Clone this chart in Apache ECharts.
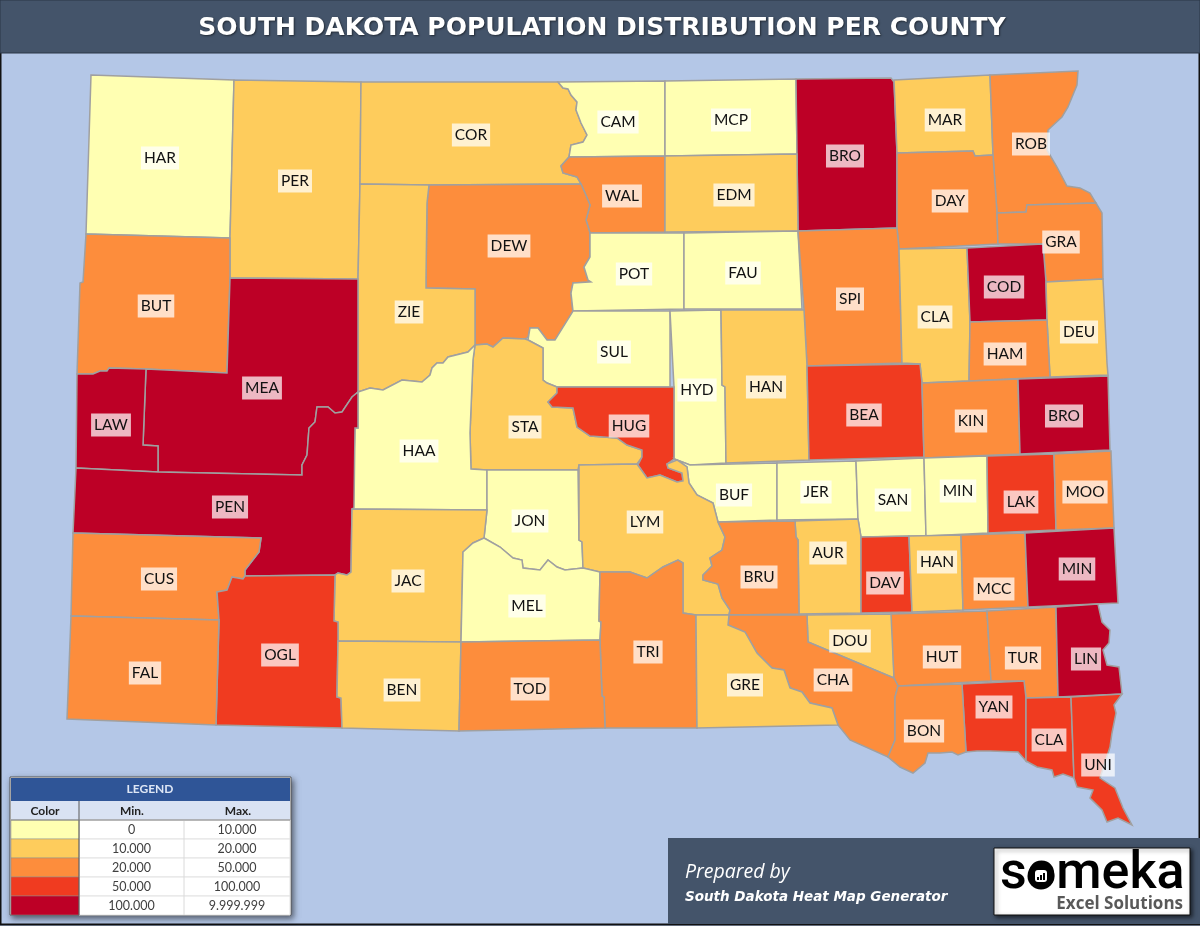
<!DOCTYPE html>
<html>
<head>
<meta charset="utf-8">
<title>South Dakota Population Distribution Per County</title>
<script src="https://cdn.jsdelivr.net/npm/echarts@6/dist/echarts.min.js"></script>
<style>
html, body { margin: 0; padding: 0; background: #000; }
#chart { width: 1200px; height: 926px; }
</style>
</head>
<body>
<div id="chart"></div>
<script>
var chartTitle = 'SOUTH DAKOTA POPULATION DISTRIBUTION PER COUNTY';

// legend table
var bandColors = ['#FFFFB2', '#FECC5C', '#FD8D3C', '#F03B20', '#BD0026'];
var bandMin = ['0', '10.000', '20.000', '50.000', '100.000'];
var bandMax = ['10.000', '20.000', '50.000', '100.000', '9.999.999'];

// counties, all lists below run in the same order
var countyNames = ['Harding', 'Perkins', 'Corson', 'Campbell', 'McPherson', 'Brown', 'Marshall', 'Roberts',
    'Walworth', 'Edmunds', 'Day', 'Grant', 'Dewey', 'Potter', 'Faulk', 'Spink', 'Clark', 'Codington', 'Deuel',
    'Butte', 'Ziebach', 'Sully', 'Hamlin', 'Meade', 'Hyde', 'Hand', 'Lawrence', 'Stanley', 'Hughes', 'Haakon',
    'Beadle', 'Kingsbury', 'Brookings', 'Pennington', 'Buffalo', 'Jerauld', 'Sanborn', 'Miner', 'Lake', 'Moody',
    'Jones', 'Lyman', 'Custer', 'Aurora', 'Davison', 'Hanson', 'McCook', 'Minnehaha', 'Brule', 'Jackson',
    'Mellette', 'Oglala', 'Tripp', 'Douglas', 'Hutchinson', 'Turner', 'Lincoln', 'Charles Mix', 'Gregory',
    'Fall River', 'Bennett', 'Todd', 'Yankton', 'Bon Homme', 'Clay', 'Union'];
var countyCodes = ['HAR', 'PER', 'COR', 'CAM', 'MCP', 'BRO', 'MAR', 'ROB',
    'WAL', 'EDM', 'DAY', 'GRA', 'DEW', 'POT', 'FAU', 'SPI', 'CLA', 'COD', 'DEU',
    'BUT', 'ZIE', 'SUL', 'HAM', 'MEA', 'HYD', 'HAN', 'LAW', 'STA', 'HUG', 'HAA',
    'BEA', 'KIN', 'BRO', 'PEN', 'BUF', 'JER', 'SAN', 'MIN', 'LAK', 'MOO',
    'JON', 'LYM', 'CUS', 'AUR', 'DAV', 'HAN', 'MCC', 'MIN', 'BRU', 'JAC',
    'MEL', 'OGL', 'TRI', 'DOU', 'HUT', 'TUR', 'LIN', 'CHA', 'GRE',
    'FAL', 'BEN', 'TOD', 'YAN', 'BON', 'CLA', 'UNI'];
// index into the legend rows
var countyBands = [0, 1, 1, 0, 0, 4, 1, 2,
    2, 1, 2, 2, 2, 0, 0, 2, 1, 4, 1,
    2, 1, 0, 2, 4, 0, 1, 4, 1, 3, 0,
    3, 2, 4, 4, 0, 0, 0, 0, 3, 2,
    0, 1, 2, 1, 3, 1, 2, 4, 2, 1,
    0, 3, 2, 1, 2, 2, 4, 2, 1,
    2, 1, 2, 3, 2, 3, 3];
var labelAnchors = [[160,157],[295,180],[471,134],[618,121],[731,119],[845,155],[945,119],[1031,143],
    [622,195],[734,194],[950,200],[1061,241],[509,245],[634,273],[743,272],[850,298],[935,316],[1004,286],[1079,331],
    [156,305],[409,311],[614,351],[1005,353],[262,387],[697,389],[766,386],[111,424],[525,426],[629,425],[419,450],
    [864,414],[971,420],[1064,415],[230,506],[734,494],[816,491],[893,499],[958,490],[1021,501],[1085,491],
    [530,520],[645,521],[159,578],[828,552],[885,582],[937,561],[994,588],[1077,568],[759,576],[408,580],
    [527,605],[280,654],[648,651],[850,640],[942,656],[1023,657],[1086,658],[833,679],[745,684],
    [145,672],[402,689],[530,688],[994,706],[924,730],[1049,739],[1098,764]];
// county shapes
var countyOutlines = [
    [[91,75],[234,80],[230,238],[86,234]],
    [[234,80],[361,82],[360,184],[358,279],[230,278],[230,238]],
    [[361,82],[558,82],[563,88],[568,89],[571,95],[577,102],[576,110],[581,123],[587,135],[583,142],[571,145],[569,157],[561,166],[563,173],[577,177],[581,184],[429,185],[360,184]],
    [[558,82],[665,81],[665,156],[569,157],[571,145],[583,142],[587,135],[581,123],[576,110],[577,102],[571,95],[568,89],[563,88]],
    [[665,81],[796,79],[797,154],[665,156]],
    [[796,79],[891,78],[894,82],[897,153],[897,228],[798,231],[797,154]],
    [[894,80],[990,75],[993,155],[975,156],[973,151],[897,153]],
    [[990,75],[1078,71],[1077,85],[1068,107],[1062,117],[1048,130],[1047,150],[1057,167],[1067,186],[1080,188],[1090,193],[1096,203],[1027,205],[1026,212],[997,213],[993,155]],
    [[569,157],[665,156],[665,232],[590,233],[586,220],[590,205],[585,193],[581,184],[577,177],[563,173],[561,166]],
    [[665,156],[797,154],[798,231],[665,232]],
    [[897,153],[973,151],[975,156],[993,155],[997,213],[998,244],[899,249],[897,228]],
    [[997,213],[1026,212],[1027,205],[1096,203],[1102,213],[1103,279],[1046,282],[1043,244],[998,244]],
    [[429,185],[581,184],[585,193],[590,205],[586,220],[590,233],[590,257],[584,267],[588,280],[591,282],[573,283],[571,293],[573,313],[555,340],[547,340],[538,328],[530,328],[528,337],[525,339],[503,338],[493,347],[487,344],[475,345],[475,289],[426,288],[426,278],[427,203]],
    [[590,233],[684,233],[684,309],[573,311],[571,293],[573,283],[591,282],[588,280],[584,267],[590,257]],
    [[684,233],[798,231],[802,309],[684,309]],
    [[798,231],[897,228],[899,249],[902,363],[807,366],[804,310]],
    [[899,249],[967,248],[970,322],[969,381],[922,383],[920,364],[902,363]],
    [[967,248],[1043,244],[1046,282],[1047,320],[970,322]],
    [[1046,282],[1103,279],[1107,363],[1108,375],[1050,377],[1047,320]],
    [[86,234],[230,238],[230,278],[227,373],[146,369],[109,368],[107,371],[100,371],[93,374],[77,374],[80,283],[83,282]],
    [[360,184],[429,185],[427,203],[426,278],[426,288],[475,289],[475,345],[468,352],[448,357],[443,363],[437,363],[432,368],[430,375],[422,382],[402,380],[383,390],[370,388],[358,392],[358,279]],
    [[528,340],[530,328],[538,328],[547,340],[555,340],[573,311],[670,311],[670,387],[557,387],[547,383],[543,380],[543,348]],
    [[970,322],[1047,320],[1050,377],[969,381]],
    [[230,278],[358,279],[358,392],[352,397],[342,412],[335,413],[328,407],[317,407],[315,422],[309,428],[307,455],[302,465],[302,475],[158,472],[158,446],[143,445],[146,369],[227,373]],
    [[670,311],[721,310],[722,385],[725,387],[726,463],[690,465],[677,460],[674,459],[674,387]],
    [[721,310],[804,310],[807,366],[809,460],[726,463],[725,387],[722,385]],
    [[77,374],[93,374],[100,371],[107,371],[109,368],[146,369],[143,445],[158,446],[158,472],[76,468]],
    [[475,345],[487,344],[493,347],[503,338],[525,339],[528,340],[543,348],[543,380],[547,383],[557,387],[557,393],[548,402],[552,407],[573,408],[577,427],[590,436],[617,438],[627,445],[642,450],[642,457],[637,464],[579,465],[578,470],[487,470],[471,469],[470,433],[473,360]],
    [[557,387],[674,387],[674,459],[667,464],[668,468],[682,473],[683,481],[677,482],[660,475],[647,478],[638,465],[642,457],[642,450],[627,445],[617,438],[590,436],[577,427],[573,408],[552,407],[548,402],[557,393]],
    [[358,392],[370,388],[383,390],[402,380],[422,382],[430,375],[432,368],[437,363],[443,363],[448,357],[468,352],[475,345],[473,360],[470,433],[471,469],[487,470],[487,510],[352,509],[355,428],[358,428]],
    [[807,366],[920,364],[922,383],[924,457],[809,460]],
    [[922,383],[1018,379],[1020,454],[924,458]],
    [[1018,379],[1108,376],[1110,450],[1020,454]],
    [[76,468],[158,472],[302,475],[302,465],[307,455],[309,428],[315,422],[317,407],[328,407],[335,413],[342,412],[352,397],[358,392],[358,428],[355,428],[354,508],[352,509],[351,572],[347,575],[338,573],[335,575],[245,576],[245,570],[259,552],[261,538],[73,533]],
    [[677,460],[690,465],[777,463],[777,520],[718,522],[713,503],[697,495],[689,483],[687,467]],
    [[777,463],[856,461],[858,519],[777,520]],
    [[856,461],[924,458],[926,536],[861,537],[858,519]],
    [[924,458],[987,456],[988,533],[926,536]],
    [[987,456],[1054,454],[1056,530],[988,533]],
    [[1054,454],[1111,451],[1114,528],[1056,530]],
    [[487,470],[578,470],[579,540],[582,542],[583,568],[565,570],[557,567],[548,560],[540,570],[523,568],[522,560],[513,558],[500,547],[484,538],[487,510]],
    [[579,465],[637,464],[638,465],[647,478],[660,475],[677,482],[683,481],[682,473],[668,468],[667,464],[677,460],[687,467],[689,483],[697,495],[713,503],[718,522],[725,537],[722,550],[710,558],[712,566],[703,575],[703,580],[718,584],[722,598],[730,610],[729,615],[696,615],[683,613],[683,563],[678,560],[663,567],[647,578],[630,572],[600,572],[583,568],[582,542],[579,540]],
    [[73,533],[261,538],[259,552],[245,570],[245,576],[243,579],[232,577],[227,590],[217,592],[219,620],[71,616]],
    [[795,521],[858,519],[861,537],[861,613],[799,614],[798,540],[796,537]],
    [[861,537],[909,536],[912,612],[861,613]],
    [[909,536],[961,535],[963,610],[912,612]],
    [[961,535],[1025,533],[1028,607],[963,610]],
    [[1025,533],[1114,528],[1118,603],[1028,607]],
    [[718,522],[795,521],[796,537],[798,540],[799,614],[729,615],[730,610],[722,598],[718,584],[703,580],[703,575],[712,566],[710,558],[722,550],[725,537]],
    [[352,509],[487,510],[484,538],[473,543],[463,552],[461,642],[338,641],[338,622],[334,621],[335,575],[338,573],[347,575],[351,572]],
    [[484,538],[500,547],[513,558],[522,560],[523,568],[540,570],[548,560],[557,567],[565,570],[583,568],[600,572],[599,621],[601,622],[600,640],[461,642],[463,552],[473,543]],
    [[217,592],[227,590],[232,577],[243,579],[245,576],[335,575],[334,621],[338,622],[338,641],[337,697],[341,698],[342,728],[216,725],[219,620]],
    [[600,572],[630,572],[647,578],[663,567],[678,560],[683,563],[683,613],[696,615],[697,728],[605,728],[604,697],[602,696],[600,640],[601,622],[599,621]],
    [[807,615],[892,614],[894,678],[808,642]],
    [[891,614],[987,611],[991,681],[898,686],[894,678]],
    [[987,611],[1056,607],[1058,697],[1026,698],[1024,681],[991,681]],
    [[1056,607],[1098,604],[1102,622],[1110,630],[1109,643],[1103,650],[1107,665],[1119,667],[1122,694],[1058,697]],
    [[729,615],[807,615],[808,642],[894,678],[898,686],[895,697],[895,740],[888,757],[850,740],[838,725],[832,708],[810,703],[802,692],[790,688],[784,670],[772,668],[757,653],[745,632],[728,625]],
    [[696,615],[729,615],[728,625],[745,632],[757,653],[772,668],[784,670],[790,688],[802,692],[810,703],[832,708],[838,725],[697,728]],
    [[71,616],[219,620],[216,725],[67,719]],
    [[338,641],[461,642],[459,731],[342,728],[341,698],[337,697]],
    [[461,642],[600,640],[602,696],[604,697],[605,728],[459,731]],
    [[962,684],[1024,681],[1026,698],[1026,761],[1018,752],[990,751],[977,751],[966,752]],
    [[898,686],[962,684],[966,752],[958,755],[952,752],[940,753],[928,753],[925,763],[913,773],[900,767],[888,757],[895,740],[895,697]],
    [[1026,698],[1071,697],[1074,778],[1063,774],[1054,777],[1052,770],[1037,767],[1026,761]],
    [[1071,697],[1122,694],[1114,705],[1116,713],[1112,733],[1110,747],[1100,778],[1115,788],[1123,808],[1132,825],[1118,818],[1107,822],[1102,810],[1090,798],[1093,790],[1077,787],[1074,778]]
];

var chart = echarts.init(document.getElementById('chart'));

echarts.registerMap('southDakota', {
    type: 'FeatureCollection',
    features: countyNames.map(function (name, i) {
        var ring = countyOutlines[i].concat([countyOutlines[i][0]]);
        return {
            type: 'Feature',
            properties: { name: name, cp: labelAnchors[i] },
            geometry: { type: 'Polygon', coordinates: [ring] }
        };
    })
});

// legend table and the footer panel
function buildGraphics() {
    var g = [];
    var tableX = 11, colorW = 68, minW = 105, maxW = 106;
    var rowY = 820, rowH = 19;

    function text(x, y, str, size, color, weight, align, family, style) {
        g.push({
            type: 'text', x: x, y: y, z: 20,
            style: {
                text: str, fontSize: size, fill: color, fontWeight: weight || 'normal',
                fontStyle: style || 'normal',
                fontFamily: family || 'Lato', align: align || 'center', verticalAlign: 'middle'
            }
        });
    }
    function box(x, y, w, h, fill, stroke, extra) {
        g.push({
            type: 'rect', z: 10, shape: { x: x, y: y, width: w, height: h },
            style: Object.assign({ fill: fill, stroke: stroke || 'none', lineWidth: stroke ? 1 : 0 }, extra || {})
        });
    }

    box(10, 777, 281, 138, '#fff', '#595959', { shadowBlur: 6, shadowColor: 'rgba(0,0,0,0.55)', shadowOffsetX: 2, shadowOffsetY: 3 });
    box(tableX, 778, 279, 23, '#2F5597');
    box(tableX, 801, 279, 19, '#D9E2F3');
    text(150, 789, 'LEGEND', 12, '#DDE6F5', 'bold');
    text(tableX + colorW / 2, 811, 'Color', 12, '#222', 'bold');
    text(132, 811, 'Min.', 12, '#222', 'bold');
    text(238, 811, 'Max.', 12, '#222', 'bold');

    bandColors.forEach(function (color, i) {
        var y = rowY + i * rowH;
        box(tableX + colorW, y, minW + maxW, rowH, '#fff', '#E2E2E2');
        box(tableX, y, colorW, rowH, color, '#8C8C8C', { lineWidth: 0.5 });
        text(tableX + colorW + minW / 2, y + rowH / 2 + 0.5, bandMin[i], 12.5, '#404040');
        text(tableX + colorW + minW + maxW / 2, y + rowH / 2 + 0.5, bandMax[i], 12.5, '#404040');
    });
    g.push({ type: 'line', z: 15, shape: { x1: 79, y1: 801, x2: 79, y2: 915 }, style: { stroke: '#595959', lineWidth: 1 } });
    g.push({ type: 'line', z: 15, shape: { x1: 11, y1: 820, x2: 290, y2: 820 }, style: { stroke: '#7F7F7F', lineWidth: 1 } });
    g.push({ type: 'line', z: 15, shape: { x1: 184, y1: 821, x2: 184, y2: 915 }, style: { stroke: '#DADADA', lineWidth: 1 } });

    // footer panel
    box(668, 838, 532, 86, '#44546A');
    text(685, 872, 'Prepared by', 19.5, '#fff', 'normal', 'left', 'Open Sans', 'italic');
    text(685, 897, 'South Dakota Heat Map Generator', 13.5, '#fff', 'bold', 'left', 'DejaVu Sans', 'italic');

    // logo box
    box(994, 848, 196, 67, '#fff', '#111', { shadowBlur: 4, shadowColor: 'rgba(0,0,0,0.6)', shadowOffsetX: 2, shadowOffsetY: 2 });
    text(1000, 875, 'someka', 52, '#000', '500', 'left', 'Roboto');
    g.push({ type: 'circle', z: 21, shape: { cx: 1041, cy: 876, r: 13.5 }, style: { fill: '#000' } });
    g.push({ type: 'rect', z: 22, shape: { x: 1035, y: 870, width: 12, height: 12, r: 3 }, style: { fill: '#fff' } });
    g.push({ type: 'rect', z: 23, shape: { x: 1037, y: 877, width: 2, height: 3 }, style: { fill: '#000' } });
    g.push({ type: 'rect', z: 23, shape: { x: 1040, y: 875, width: 2, height: 5 }, style: { fill: '#000' } });
    g.push({ type: 'rect', z: 23, shape: { x: 1043, y: 873, width: 2, height: 7 }, style: { fill: '#000' } });
    text(1183, 904, 'Excel Solutions', 17, '#595959', 'bold', 'right', 'Open Sans');
    return g;
}

chart.setOption({
    animation: false,
    backgroundColor: '#B4C7E7',
    title: {
        text: chartTitle,
        left: 597,
        top: 11,
        textAlign: 'center',
        textStyle: {
            color: '#fff',
            fontFamily: 'DejaVu Sans',
            fontSize: 25,
            fontWeight: 'bold',
            textShadowColor: 'rgba(0,0,0,0.5)',
            textShadowBlur: 2,
            textShadowOffsetX: 1,
            textShadowOffsetY: 1
        },
        z: 30
    },
    tooltip: { show: false },
    visualMap: {
        show: false,
        type: 'piecewise',
        dimension: 0,
        pieces: bandColors.map(function (color, i) {
            return { value: i, color: color };
        })
    },
    graphic: {
        elements: [
            { type: 'rect', z: 5, shape: { x: 0, y: 0, width: 1200, height: 53 }, style: { fill: '#44546A', stroke: '#2B3646', lineWidth: 1 } },
            { type: 'rect', z: 1, shape: { x: 0.5, y: 1, width: 1199, height: 923.5 }, style: { fill: 'none', stroke: '#111', lineWidth: 2 } }
        ].concat(buildGraphics())
    },
    series: [
        {
            type: 'map',
            map: 'southDakota',
            projection: {
                project: function (p) { return p; },
                unproject: function (p) { return p; }
            },
            left: 67,
            top: 71,
            width: 1065,
            height: 754,
            roam: false,
            silent: true,
            selectedMode: false,
            itemStyle: {
                borderColor: '#A0A0A0',
                borderWidth: 1.5
            },
            label: {
                show: true,
                color: '#111',
                fontFamily: 'Lato',
                fontSize: 15.5,
                offset: [0, 1],
                backgroundColor: 'rgba(255,255,255,0.72)',
                padding: [4, 3, 3, 3],
                formatter: function (params) {
                    return countyCodes[countyNames.indexOf(params.name)];
                }
            },
            emphasis: { disabled: true },
            data: countyNames.map(function (name, i) {
                return { name: name, value: countyBands[i] };
            })
        }
    ]
});
</script>
</body>
</html>
